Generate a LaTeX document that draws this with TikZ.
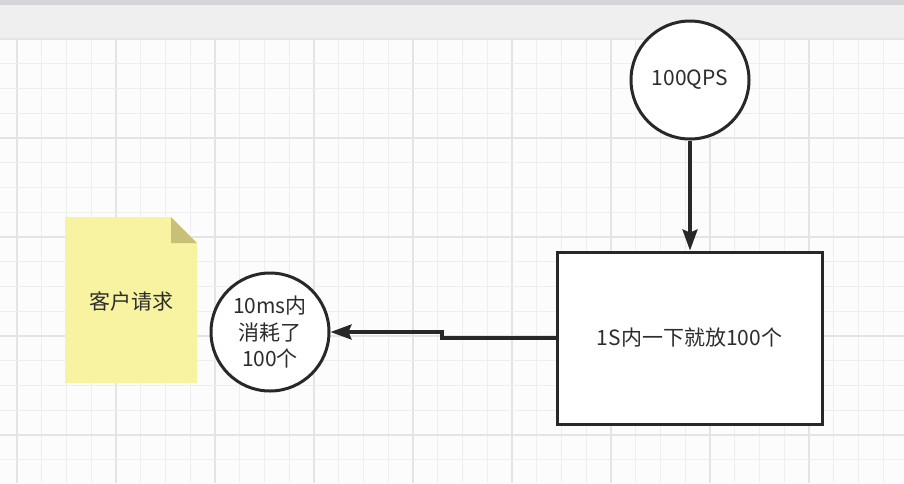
\documentclass[tikz,border=0pt]{standalone}
\usepackage{fontspec}
\setmainfont{Noto Sans CJK SC}
\usetikzlibrary{arrows.meta}
\definecolor{bgc}{RGB}{252,252,252}
\definecolor{gridminor}{RGB}{238,238,238}
\definecolor{gridmajor}{RGB}{228,228,228}
\definecolor{bardark}{RGB}{214,213,218}
\definecolor{barlight}{RGB}{239,239,239}
\definecolor{notefill}{RGB}{248,243,160}
\definecolor{notefold}{RGB}{199,192,118}
\definecolor{ink}{RGB}{40,40,40}
\definecolor{txt}{RGB}{45,45,45}
\tikzset{
  ball/.style={circle, draw=ink, line width=3pt, fill=white, minimum size=118pt, inner sep=0pt, text=txt, align=center, font=\fontsize{21}{26.5}\selectfont},
  boxnode/.style={rectangle, draw=ink, line width=3pt, fill=white, minimum width=265pt, minimum height=172pt, text=txt, font=\fontsize{21}{26.5}\selectfont},
  flowarrow/.style={draw=ink, line width=3.2pt, -{Stealth[length=21pt, width=15pt, inset=3pt]}},
  notetext/.style={text=txt, font=\fontsize{21}{26.5}\selectfont}
}
\begin{document}
\begin{tikzpicture}[x=1pt, y=-1pt]
\useasboundingbox (0,0) rectangle (904,483);
% background
\fill[bgc] (0,0) rectangle (904,483);
\foreach \k in {0,...,35} {
  \pgfmathtruncatemacro{\m}{mod(\k,4)}
  \ifnum\m=0
    \draw[gridmajor, line width=1.1pt] ({17+24.75*\k},39) -- ({17+24.75*\k},483);
  \else
    \draw[gridminor, line width=0.9pt] ({17+24.75*\k},39) -- ({17+24.75*\k},483);
  \fi
}
\foreach \k in {0,...,17} {
  \pgfmathtruncatemacro{\m}{mod(\k,4)}
  \ifnum\m=0
    \draw[gridmajor, line width=1.1pt] (0,{39+24.75*\k}) -- (904,{39+24.75*\k});
  \else
    \draw[gridminor, line width=0.9pt] (0,{39+24.75*\k}) -- (904,{39+24.75*\k});
  \fi
}
% top bar
\fill[barlight] (0,0) rectangle (904,38);
\fill[bardark] (0,0) rectangle (904,5);
% note
\fill[notefill] (65,217) -- (171,217) -- (197,243) -- (197,383) -- (65,383) -- cycle;
\fill[notefold] (171,217) -- (171,243) -- (197,243) -- cycle;
\node[notetext] (note) at (131,301) {客户请求};
% nodes
\node[ball] (qps) at (690,80) {100QPS};
\node[boxnode] (box) at (689.5,338) {1S内一下就放100个};
\node[ball] (cons) at (270,332) {10ms内\\消耗了\\100个};
% connectors
\draw[flowarrow] (qps.south) -- (qps.south |- box.north);
\coordinate (b1) at (442,338);
\coordinate (b2) at (442,332);
\draw[flowarrow] (box.west) -- (b1) -- (b2) -- (cons.east);
\end{tikzpicture}
\end{document}
